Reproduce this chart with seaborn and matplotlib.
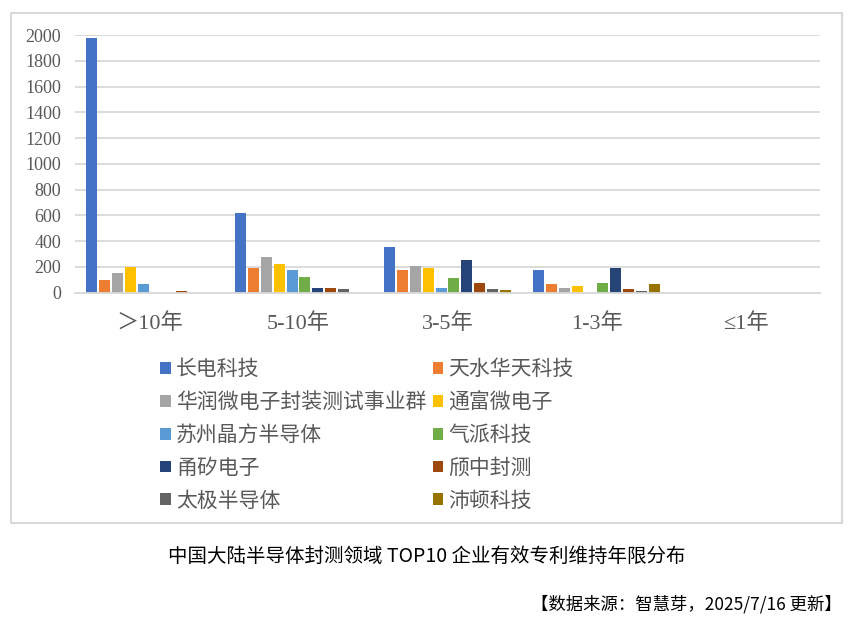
import pandas as pd
import numpy as np
import seaborn as sns
import matplotlib.pyplot as plt
from matplotlib.patches import Rectangle

# data
periods = ["＞10年", "5-10年", "3-5年", "1-3年", "≤1年"]
companies = ["长电科技", "天水华天科技", "华润微电子封装测试事业群", "通富微电子", "苏州晶方半导体",
             "气派科技", "甬矽电子", "颀中封测", "太极半导体", "沛顿科技"]
v_gt10 = [1977, 98, 153, 199, 67, 0, 0, 10, 0, 0]
v_5_10 = [618, 191, 277, 223, 176, 122, 36, 36, 28, 0]
v_3_5 = [353, 175, 206, 191, 36, 114, 253, 75, 28, 21]
v_1_3 = [175, 67, 36, 52, 0, 75, 191, 28, 13, 67]
v_le1 = [0, 0, 0, 0, 0, 0, 0, 0, 0, 0]
colors = ["#4472C4", "#ED7D31", "#A5A5A5", "#FFC000", "#5B9BD5",
          "#70AD47", "#264478", "#9E480E", "#636363", "#997300"]

rows = []
for p, vals in zip(periods, [v_gt10, v_5_10, v_3_5, v_1_3, v_le1]):
    for c, v in zip(companies, vals):
        rows.append({"period": p, "company": c, "count": v})
df = pd.DataFrame(rows)

sns.set_style("white")
plt.rcParams['font.family'] = ['Liberation Serif', 'Noto Sans CJK SC', 'DejaVu Sans']

fig = plt.figure(figsize=(8.55, 6.19), dpi=100)
ax = fig.add_axes([75/855, 1-292.7/619, 745/855, 257.7/619])

sns.barplot(data=df, x="period", y="count", hue="company", hue_order=companies,
            order=periods, palette=colors, saturation=1, width=0.87, gap=0.15, ax=ax,
            edgecolor="none", errorbar=None)

ax.set_ylim(0, 2000)
ax.set_yticks(np.arange(0, 2001, 200))
ax.yaxis.grid(True, color="#D9D9D9", linewidth=1.3)
ax.set_axisbelow(True)
for s in ["top", "right", "left"]:
    ax.spines[s].set_visible(False)
ax.spines["bottom"].set_color("#D9D9D9")
ax.spines["bottom"].set_linewidth(1.3)
ax.set_xlabel("")
ax.set_ylabel("")
ax.tick_params(axis="y", length=0, pad=10, labelsize=13, labelcolor="#595959")
ax.tick_params(axis="x", length=0, pad=15, labelsize=16, labelcolor="#595959")

# legend, row-major order in two columns
handles, labels = ax.get_legend_handles_labels()
order = [0, 2, 4, 6, 8, 1, 3, 5, 7, 9]
ax.legend([handles[i] for i in order], [labels[i] for i in order], ncol=2,
          loc="upper left", bbox_to_anchor=(150/855, 1-348/619), bbox_transform=fig.transFigure,
          frameon=False, labelcolor="#595959",
          handlelength=0.5, handleheight=0.5, handletextpad=0.25,
          labelspacing=0.52, columnspacing=0.3, borderpad=0,
          prop={"family": ["Noto Sans CJK SC"], "size": 15})

# outer chart frame
fig.patches.append(Rectangle((11/855, 1-523/619), 831/855, 510/619, transform=fig.transFigure,
                             fill=False, edgecolor="#D9D9D9", linewidth=1.5))

fig.text(427/855, 1-556/619, "中国大陆半导体封测领域 TOP10 企业有效专利维持年限分布",
         ha="center", va="center", fontsize=14, family=["Noto Sans CJK SC"], color="black")
fig.text(842/855, 1-604/619, "【数据来源：智慧芽，2025/7/16 更新】",
         ha="right", va="center", fontsize=12.5, family=["Noto Sans CJK SC"],
         style="italic", color="black")

fig.savefig("out.png", dpi=100)
